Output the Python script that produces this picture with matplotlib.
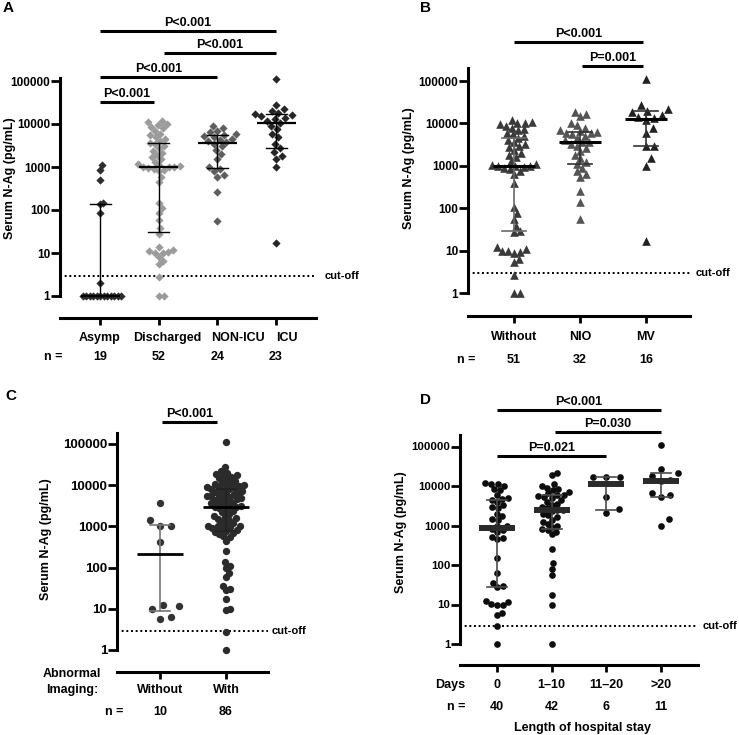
import numpy as np
import matplotlib
matplotlib.use("Agg")
import matplotlib.pyplot as plt
from matplotlib.transforms import blended_transform_factory
from matplotlib.ticker import FixedLocator, NullLocator

plt.rcParams['font.family'] = ['Liberation Sans', 'DejaVu Sans']
plt.rcParams['font.weight'] = 'bold'
plt.rcParams['font.size'] = 9

# ---------------- data: serum N-Ag (pg/mL) ----------------
cutoff = 2.9
yticks = [1, 10, 100, 1000, 10000, 100000]

# A - by clinical group
a_groups = ["Asymp", "Discharged", "NON-ICU", "ICU"]
a_n = [19, 52, 24, 23]
a_asymp = [1, 1, 1, 1, 1, 1, 1, 1, 1, 1, 1, 1, 2, 85, 138, 148, 500, 850, 1100]
a_disch = [1, 1, 2.8, 5.5, 6.5, 8, 10, 10, 10.5, 11, 12, 14, 28,
           38, 58, 85, 110, 145, 450, 600,
           800, 850, 900, 950, 1000, 1000, 1000, 1050, 1100, 1200, 1300, 1500, 1700,
           1900, 2100, 2400, 2700, 3000, 3400,
           3700, 4000, 4500, 5000, 5500, 6000, 7000, 8000, 8500, 9500, 10000, 11000, 12000]
a_nonicu = [55, 265, 600, 650, 800, 900, 1000, 1500, 2000, 2500, 3000, 3500, 3800,
            4000, 4200, 4500, 5000, 5200, 5500, 6000, 6500, 7000, 8000, 9000]
a_icu = [17, 1000, 1500, 1800, 2200, 2700, 3500, 5000, 6000, 7500, 9000, 10700, 12000,
         13000, 14000, 15000, 16000, 17000, 18000, 20000, 22000, 27000, 110000]
a_pvals = ["P<0.001", "P<0.001", "P<0.001", "P<0.001"]

# B - by oxygen support
b_groups = ["Without", "NIO", "MV"]
b_n = [51, 32, 16]
b_without = [1, 1, 2.6, 5.5, 6.5, 9, 9.5, 10, 10, 11, 12, 27, 29,
             38, 55, 75, 105, 400, 650, 750, 850, 900, 950, 980, 1000, 1000,
             1050, 1100, 1300, 1600, 1800, 2000, 2400, 2800, 3000, 3300, 3600, 4000, 4500,
             5000, 5500, 6000, 7000, 7500, 8000, 8500, 9500, 10000, 10500, 11000, 12000]
b_nio = [55, 140, 250, 550, 650, 750, 900, 1100, 1200, 1500, 1800, 2200, 2600, 3000,
         3300, 3600, 3700, 4000, 4500, 5000, 5500, 5800, 6000, 6200, 6500, 7000, 8000,
         9000, 10000, 15000, 17000, 19000]
b_mv = [17, 1000, 1500, 2900, 3000, 6000, 8000, 12000, 13500, 14000, 16000, 19000,
        20000, 22000, 27000, 110000]
b_pvals = ["P=0.001", "P<0.001"]

# C - by abnormal imaging
c_groups = ["Without", "With"]
c_n = [10, 86]
c_without = [5.5, 6.2, 10, 11.5, 12.5, 420, 1000, 1000, 1400, 3700]
c_with = [1, 2.8, 9.5, 10, 17, 28, 30, 35, 60, 75, 100, 110, 140, 260, 450, 550, 600,
          650, 700, 720, 780, 800,
          850, 900, 950, 1000, 1000, 1050, 1100, 1200, 1300, 1400, 1500, 1600, 1700,
          1800, 2000, 2200, 2400, 2600, 2800, 2900, 3000,
          3050, 3200, 3400, 3600, 3800, 4000, 4200, 4400, 4600, 4800, 5000, 5200, 5400,
          5600, 5800, 6000, 6300, 6600, 7000, 7300, 7600, 8000,
          8200, 8500, 8800, 9000, 9500, 10000, 10000, 10500, 11000, 12000, 13000, 14000,
          15000, 16000, 17000, 18000, 19000, 20000, 22000, 27000, 110000]
c_pvals = ["P<0.001"]

# D - by length of hospital stay
d_groups = ["0", "1\u201310", "11\u201320", ">20"]
d_n = [40, 42, 6, 11]
d_0 = [1, 2.8, 5.5, 6.2, 9.5, 10, 10.5, 11.5, 12.5, 28, 30, 36, 63, 150, 450, 480, 520,
       700, 750, 800, 950, 1000, 1400, 1500, 1700, 2000, 2800, 3000, 3300, 4000, 4500,
       4800, 5000, 6000, 8000, 8500, 10000, 11000, 11000, 12000]
d_1_10 = [1, 10, 17, 55, 80, 110, 260, 600, 700, 750, 820, 900, 1000, 1100, 1200, 1400,
          1600, 1800, 2000, 2300, 2400, 2500, 2700, 3000, 3300, 3600, 4000, 4500, 5000,
          5200, 5500, 5800, 6000, 6500, 7000, 8000, 8500, 9000, 10000, 11000, 19000, 21000]
d_11_20 = [2100, 2600, 5400, 17000, 17000, 17000]
d_gt20 = [1000, 1500, 5200, 6000, 6500, 13400, 14000, 18000, 21000, 27000, 110000]
d_pvals = ["P=0.021", "P=0.030", "P<0.001"]

# ---------------- layout helpers ----------------
W, H = 739, 735
fig = plt.figure(figsize=(W / 100, H / 100), dpi=100)


def fy(py):
    return 1 - py / H


def swarm(ax, vals, d, half_w):
    ypx = ax.transData.transform(np.column_stack([np.zeros(len(vals)), vals]))[:, 1]
    order = np.argsort(ypx, kind='stable')
    px_list, py_list = [], []
    offs = np.zeros(len(vals))
    for i in order:
        y = ypx[i]
        cands = [0.0]
        for qx, qy in zip(px_list, py_list):
            dy = abs(qy - y)
            if dy < d:
                dx = np.sqrt(d * d - dy * dy)
                cands += [qx + dx, qx - dx]
        cands.sort(key=abs)
        best = cands[0]
        for c in cands:
            if all((c - qx) ** 2 + (y - qy) ** 2 >= d * d - 1e-6 for qx, qy in zip(px_list, py_list)):
                best = c
                break
        offs[i] = best
        px_list.append(best)
        py_list.append(y)
    m = np.abs(offs).max()
    if m > half_w:
        offs = offs * half_w / m
    return offs


def panel(l, r, b, dec, top, cat_px, groups, data, colors, marker, ms, sw_d, sw_w,
          med_w, cap_w, med_lw, med_col, wh_cols, wh_lw, spine_out, tick_fs,
          lab_py, lab_dx):
    h = dec * np.log10(top)
    ax = fig.add_axes([l / W, 1 - b / H, (r - l) / W, h / H])
    sp = (cat_px[-1] - cat_px[0]) / (len(cat_px) - 1)
    ax.set_yscale('log')
    ax.set_ylim(1, top)
    ax.set_xlim((l - cat_px[0]) / sp, (r - cat_px[0]) / sp)
    ppu = ax.bbox.width / (ax.get_xlim()[1] - ax.get_xlim()[0])
    for k, vals in enumerate(data):
        offs = swarm(ax, vals, sw_d[k], sw_w) / ppu
        ax.scatter(k + offs, vals, s=ms ** 2, marker=marker, color=colors[k],
                   linewidths=0, clip_on=False, zorder=3)
        q1, med, q3 = np.percentile(vals, [25, 50, 75], method='weibull')
        ax.plot([k, k], [q1, q3], color=wh_cols[k], lw=wh_lw, zorder=4, clip_on=False)
        for q in (q1, q3):
            ax.plot([k - cap_w / ppu, k + cap_w / ppu], [q, q], color=wh_cols[k],
                    lw=wh_lw, zorder=4, clip_on=False)
        ax.plot([k - med_w / ppu, k + med_w / ppu], [med, med], color=med_col,
                lw=med_lw, zorder=5, solid_capstyle='butt', clip_on=False)
    ax.axhline(cutoff, color='k', lw=1.4, ls=(0, (1, 1.4)), zorder=2)
    for s in ('top', 'right'):
        ax.spines[s].set_visible(False)
    for s in ('left', 'bottom'):
        ax.spines[s].set_linewidth(2.2)
    ax.spines['bottom'].set_position(('outward', spine_out))
    ax.yaxis.set_major_locator(FixedLocator(yticks))
    ax.yaxis.set_minor_locator(NullLocator())
    ax.set_yticklabels([str(t) for t in yticks], fontsize=tick_fs)
    ax.set_xticks(range(len(groups)))
    ax.set_xticklabels([])
    ax.tick_params(axis='y', length=6.5, width=2, pad=0.5)
    ax.tick_params(axis='x', length=5, width=2)
    ax.tr = blended_transform_factory(ax.transData, fig.transFigure)
    ax.ppu = ppu
    for k, g in enumerate(groups):
        ax.text(k + lab_dx[k] / ppu, fy(lab_py), g, transform=ax.tr, ha='center',
                va='center')
    return ax


def sig(ax, x0, x1, py, label):
    ax.plot([x0, x1], [fy(py), fy(py)], transform=ax.tr, color='k', lw=2.2,
            clip_on=False, solid_capstyle='butt')
    ax.text((x0 + x1) / 2, fy(py - 5), label, transform=ax.tr, ha='center',
            va='baseline', fontsize=9)


def nrow(ax, ns, py):
    for k, n in enumerate(ns):
        ax.text(k, fy(py), str(n), transform=ax.tr, ha='center', va='center')


def cut_text(px, py):
    fig.text(px / W, fy(py), "cut-off", ha='left', va='center', fontsize=8)


def ylab(px, py):
    fig.text(px / W, fy(py), "Serum N-Ag (pg/mL)", rotation=90, ha='center',
             va='center', fontsize=9)


def letter(px, py, s):
    fig.text(px / W, fy(py), s, ha='center', va='center', fontsize=11)


# ---------------- panel A ----------------
axA = panel(60, 316, 296, 43, 1.17e5, [100, 158, 217, 276], a_groups,
            [a_asymp, a_disch, a_nonicu, a_icu],
            ['#2e2e2e', '#9b9b9b', '#5e5e5e', '#262626'], 'D', 4.2,
            [6.0, 6.0, 6.5, 7.5], 21,
            19.5, 10.5, 1.6, 'k', ['k'] * 4, 1.0, 15.8, 8.5,
            338, [0, 9, 21, 11])
u = 1 / axA.ppu
sig(axA, 0, 1 - 5 * u, 102, a_pvals[0])
sig(axA, 0, 2, 77, a_pvals[1])
sig(axA, 1 + 5 * u, 3, 53, a_pvals[2])
sig(axA, 0, 3, 31, a_pvals[3])
nrow(axA, a_n, 357)
fig.text(53 / W, fy(357), "n =", ha='center', va='center')
cut_text(325, 276)
ylab(10, 178)
letter(8, 8, "A")

# ---------------- panel B ----------------
axB = panel(468, 690, 293, 42.4, 2.0e5, [514, 580, 646], b_groups,
            [b_without, b_nio, b_mv],
            ['#3a3a3a', '#555555', '#222222'], '^', 6.2,
            [6.5, 6.5, 9.5], 22,
            21, 12, 2.2, 'k', ['#6a6a6a', '#333333', '#333333'], 1.2, 16.6, 8.5,
            337, [0, 0, 0])
u = 1 / axB.ppu
sig(axB, 1 + 2 * u, 2 - 3 * u, 66, b_pvals[0])
sig(axB, 0, 2 - 3 * u, 42, b_pvals[1])
nrow(axB, b_n, 360)
fig.text(466 / W, fy(360), "n =", ha='center', va='center')
cut_text(696, 273)
ylab(409, 168)
letter(425, 8, "B")

# ---------------- panel C ----------------
axC = panel(117, 268, 650, 41.2, 1.85e5, [160, 226], c_groups,
            [c_without, c_with],
            ['#333333', '#2b2b2b'], 'o', 5.3,
            [15.0, 6.3], 19,
            23, 10, 2.0, 'k', ['#777777', '#222222'], 1.2, 15.8, 9.5,
            690, [0, 0])
u = 1 / axC.ppu
sig(axC, 0 + 2 * u, 1 - 9 * u, 422, c_pvals[0])
nrow(axC, c_n, 712)
fig.text(114 / W, fy(712), "n =", ha='center', va='center')
fig.text(72 / W, fy(674), "Abnormal", ha='center', va='center')
fig.text(72 / W, fy(690), "Imaging:", ha='center', va='center')
cut_text(272, 631)
ylab(46, 539)
letter(11, 396, "C")

# ---------------- panel D ----------------
axD = panel(460, 698, 644, 39.5, 2.0e5, [497, 552, 607, 661], d_groups,
            [d_0, d_1_10, d_11_20, d_gt20],
            ['#0d0d0d'] * 4, 'o', 4.8,
            [5.8, 5.8, 13.5, 12.0], 17,
            18, 10, 4.3, '#2a2a2a', ['#4a4a4a'] * 4, 1.2, 15.1, 8.2,
            685, [0, 0, 0, 0])
u = 1 / axD.ppu
sig(axD, 0, 2, 456, d_pvals[0])
sig(axD, 1 + 3 * u, 3, 432, d_pvals[1])
sig(axD, 0, 3, 410, d_pvals[2])
nrow(axD, d_n, 707)
fig.text(456 / W, fy(707), "n =", ha='center', va='center')
fig.text(450 / W, fy(685), "Days", ha='center', va='center')
fig.text(583 / W, fy(728), "Length of hospital stay", ha='center', va='center')
cut_text(703, 626)
ylab(401, 532)
letter(425, 400, "D")

fig.savefig("out.png", dpi=100)
